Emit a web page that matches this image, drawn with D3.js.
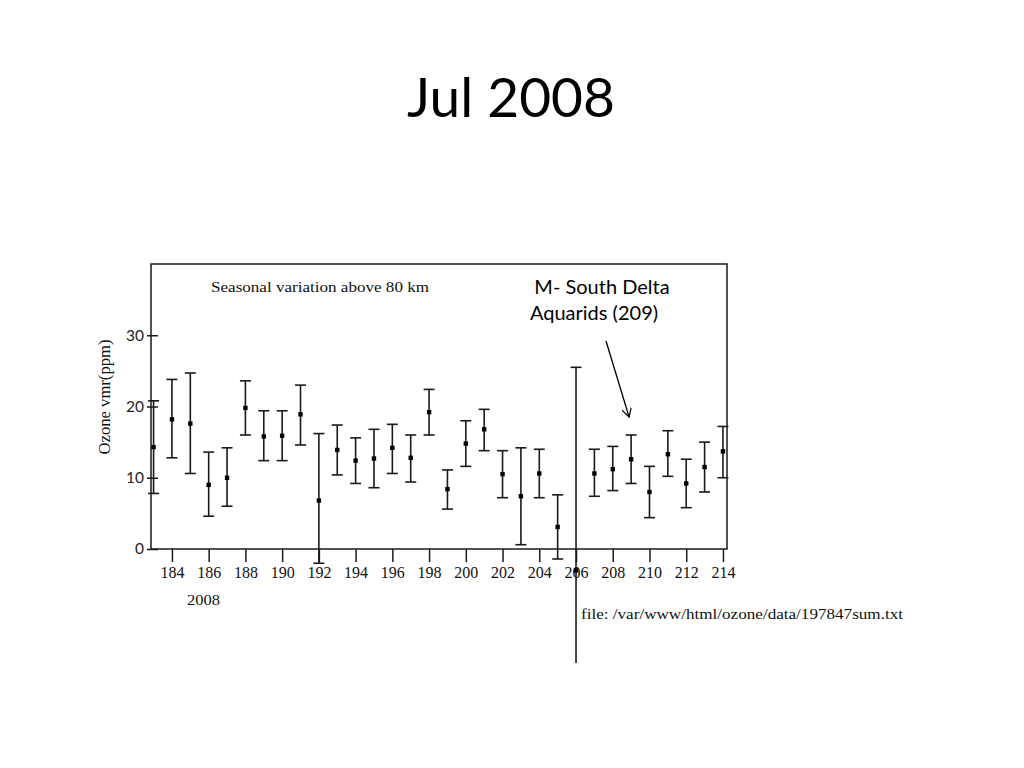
<!DOCTYPE html>
<html>
<head>
<meta charset="utf-8">
<script src="https://cdn.jsdelivr.net/npm/d3@7"></script>
<style>
  html, body { margin: 0; padding: 0; background: #fff; }
  svg { display: block; }
</style>
</head>
<body>
<svg id="chart" width="1024" height="768"></svg>
<script>
// ---- data ----
const days   = [183,184,185,186,187,188,189,190,191,192,193,194,195,196,197,198,199,200,201,202,203,204,205,206,207,208,209,210,211,212,213,214];
const ozone  = [14.3,18.2,17.6,9.0,10.0,19.8,15.8,15.9,18.9,6.8,13.9,12.4,12.7,14.2,12.8,19.2,8.4,14.8,16.8,10.5,7.4,10.6,3.1,-3.0,10.6,11.2,12.6,8.0,13.3,9.2,11.5,13.7];
const upper  = [20.8,23.8,24.7,13.6,14.2,23.6,19.4,19.4,23.0,16.2,17.4,15.6,16.8,17.5,16.0,22.4,11.1,18.0,19.6,13.8,14.2,14.0,7.6,25.5,14.0,14.4,16.0,11.6,16.6,12.6,15.0,17.2];
const lower  = [7.8,12.8,10.6,4.6,6.0,16.0,12.4,12.4,14.6,-2.0,10.4,9.2,8.6,10.6,9.4,16.0,5.6,11.6,13.8,7.2,0.6,7.2,-1.4,-16.0,7.4,8.2,9.2,4.4,10.2,5.8,8.0,10.0];
const xTicks = [184,186,188,190,192,194,196,198,200,202,204,206,208,210,212,214];
const yTicks = [0,10,20,30];

const title      = "Jul 2008";
const innerTitle = "Seasonal variation above 80 km";
const yLabel     = "Ozone vmr(ppm)";
const yearLabel  = "2008";
const fileLabel  = "file: /var/www/html/ozone/data/197847sum.txt";
const noteLines  = ["M- South Delta", "Aquarids (209)"];
const arrowDay   = 209;

// ---- layout ----
const svg = d3.select("#chart");
svg.append("rect").attr("width", 1024).attr("height", 768).attr("fill", "#fff");

const frame = { left: 151, right: 727, top: 264, bottom: 549 };
const x = d3.scaleLinear().domain([182.86, 214.22]).range([frame.left, frame.right]);
const y = d3.scaleLinear().domain([0, 40]).range([frame.bottom, frame.top]);

const ink = "#1a1a1a";
const serif = "'Liberation Serif', 'DejaVu Serif', serif";
const sans = "Lato, 'Open Sans', 'Liberation Sans', sans-serif";

// title
svg.append("text").attr("x", 511).attr("y", 117).attr("text-anchor", "middle")
  .attr("font-family", sans).attr("font-size", 55).attr("fill", "#000").text(title);

// frame
svg.append("rect").attr("x", frame.left).attr("y", frame.top)
  .attr("width", frame.right - frame.left).attr("height", frame.bottom - frame.top)
  .attr("fill", "none").attr("stroke", ink).attr("stroke-width", 1.5);

// x axis ticks
const xAxis = d3.axisBottom(x).tickValues(xTicks).tickSize(13).tickFormat(d3.format("d"));
const gx = svg.append("g").attr("transform", `translate(0,${frame.bottom})`).call(xAxis);
gx.select(".domain").remove();
gx.selectAll(".tick line").attr("stroke", ink).attr("stroke-width", 1.5);
gx.selectAll(".tick text").attr("font-family", serif).attr("font-size", 16)
  .attr("fill", "#111").attr("y", 18);

// y axis ticks
const yAxis = d3.axisLeft(y).tickValues(yTicks).tickSize(0).tickFormat(d3.format("d"));
const gy = svg.append("g").attr("transform", `translate(${frame.left},0)`).call(yAxis);
gy.select(".domain").remove();
gy.selectAll(".tick text").attr("font-family", sans).attr("font-size", 15.5)
  .attr("fill", "#222").attr("x", -7);
gy.selectAll(".tick line").remove();
gy.selectAll(".tick").append("line").attr("x1", -4).attr("x2", 7)
  .attr("stroke", ink).attr("stroke-width", 1.5);

// y label
svg.append("text").attr("transform", "translate(110,397) rotate(-90)")
  .attr("text-anchor", "middle").attr("font-family", serif).attr("font-size", 16)
  .attr("textLength", 115).attr("lengthAdjust", "spacingAndGlyphs")
  .attr("fill", "#111").text(yLabel);

// inner title
svg.append("text").attr("x", 211).attr("y", 292).attr("font-family", serif)
  .attr("font-size", 15).attr("textLength", 218).attr("lengthAdjust", "spacingAndGlyphs")
  .attr("fill", "#111").text(innerTitle);

// error bars
const capW = 5.5;
const bars = svg.append("g").attr("stroke", ink).attr("stroke-width", 1.6);
days.forEach((d, i) => {
  const cx = x(d);
  bars.append("line").attr("x1", cx).attr("x2", cx).attr("y1", y(upper[i])).attr("y2", y(lower[i]));
  bars.append("line").attr("x1", cx - capW).attr("x2", cx + capW).attr("y1", y(upper[i])).attr("y2", y(upper[i]));
  if (lower[i] > -10) {
    bars.append("line").attr("x1", cx - capW).attr("x2", cx + capW).attr("y1", y(lower[i])).attr("y2", y(lower[i]));
  }
});
svg.append("g").selectAll("rect").data(days).join("rect")
  .attr("x", d => x(d) - 2.2).attr("y", (d, i) => y(ozone[i]) - 2.2)
  .attr("width", 4.4).attr("height", 4.4).attr("fill", "#000");

// year label and file label
svg.append("text").attr("x", 187).attr("y", 605).attr("font-family", serif)
  .attr("font-size", 15).attr("textLength", 33).attr("lengthAdjust", "spacingAndGlyphs")
  .attr("fill", "#111").text(yearLabel);
svg.append("text").attr("x", 581).attr("y", 619).attr("font-family", serif)
  .attr("font-size", 15).attr("textLength", 322).attr("lengthAdjust", "spacingAndGlyphs")
  .attr("fill", "#111").text(fileLabel);

// annotation
svg.append("text").attr("x", 602).attr("y", 294).attr("text-anchor", "middle")
  .attr("font-family", sans).attr("font-size", 20).attr("fill", "#000").text(noteLines[0]);
svg.append("text").attr("x", 594).attr("y", 320).attr("text-anchor", "middle")
  .attr("font-family", sans).attr("font-size", 20).attr("fill", "#000").text(noteLines[1]);

// arrow
const ax1 = 606, ay1 = 341, ax2 = x(arrowDay) - 2, ay2 = y(16.0) - 18;
svg.append("defs").append("marker").attr("id", "ah").attr("viewBox", "0 0 10 10")
  .attr("refX", 9).attr("refY", 5).attr("markerWidth", 10).attr("markerHeight", 10)
  .attr("markerUnits", "userSpaceOnUse").attr("orient", "auto")
  .append("path").attr("d", "M0,0 L9,5 L0,10").attr("fill", "none").attr("stroke", "#000").attr("stroke-width", 1.2);
svg.append("line").attr("x1", ax1).attr("y1", ay1).attr("x2", ax2).attr("y2", ay2)
  .attr("stroke", "#000").attr("stroke-width", 1.3).attr("marker-end", "url(#ah)");
</script>
</body>
</html>
